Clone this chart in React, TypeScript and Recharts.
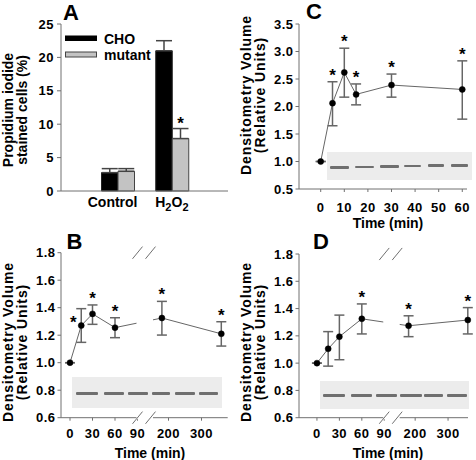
import React from "react";
import {
  ComposedChart, Bar, Line, Scatter, XAxis, YAxis, ErrorBar, LabelList,
  ReferenceArea, ReferenceLine,
} from "recharts";

const FONT = "'Liberation Sans', Arial, sans-serif";
const AXIS = "#707070";
const TRACE = "#666666";

// panel A: propidium iodide stained cells (%)
const A_GROUPS = ["Control", "H2O2"];
const A_CHO = [2.75, 21.0];
const A_CHO_HI = [3.35, 22.5];
const A_MUT = [2.95, 7.85];
const A_MUT_HI = [3.35, 9.35];
const A_MUT_SIG = [false, true];
const A_TICKS_Y = [0, 5, 10, 15, 20, 25];

// panel B: time course, broken time axis
const B_TIME = [0, 15, 30, 60, 180, 360];
const B_MEAN = [1.0, 1.27, 1.355, 1.255, 1.325, 1.21];
const B_LO = [1.0, 1.148, 1.279, 1.182, 1.201, 1.121];
const B_HI = [1.0, 1.393, 1.42, 1.327, 1.446, 1.298];
const B_SIG = [false, true, true, true, true, true];
const B_STAR_LEFT = [15];

// panel C: short time course
const C_TIME = [0, 5, 10, 15, 30, 60];
const C_MEAN = [1.0, 2.06, 2.62, 2.22, 2.39, 2.31];
const C_LO = [1.0, 1.65, 2.17, 2.03, 2.17, 1.77];
const C_HI = [1.0, 2.45, 3.06, 2.41, 2.59, 2.83];
const C_SIG = [false, true, true, true, true, true];
const C_TICKS_X = [0, 10, 20, 30, 40, 50, 60];
const C_TICKS_Y = [0.5, 1.0, 1.5, 2.0, 2.5, 3.0, 3.5];

// panel D
const D_TIME = [0, 15, 30, 60, 180, 360];
const D_MEAN = [1.0, 1.105, 1.194, 1.325, 1.274, 1.316];
const D_LO = [1.0, 0.978, 1.025, 1.214, 1.194, 1.214];
const D_HI = [1.0, 1.231, 1.352, 1.434, 1.347, 1.407];
const D_SIG = [false, false, false, true, true, true];

const BD_TICKS_X = [0, 30, 60, 90, 200, 300];
const BD_TICKS_Y = [0.6, 0.8, 1.0, 1.2, 1.4, 1.6, 1.8];

// broken axis: 0-90 min stretched, 150+ min compressed
const brk = (t: number) => (t <= 120 ? t * 0.75 : 98.5 + (t - 200) * 0.33);
const GAP = [68, 81.5];
const BREAK_MARKS = [[62.5, 72.5], [75.5, 85.5]];

// western blot insets (panel px)
const C_BLOT = { left: 89, top: 152, width: 145, height: 28, bandY: 14, tilt: -0.4,
  bands: [[3, 22], [28, 47], [53, 72], [77, 94], [101, 117], [124, 141]] };
const B_BLOT = { left: 72, top: 147, width: 150, height: 31, bandY: 15, tilt: 0,
  bands: [[4, 26], [32, 52], [56, 76], [80, 98], [103, 123], [127, 146]] };
const D_BLOT = { left: 82, top: 151, width: 149, height: 28, bandY: 13, tilt: 0,
  bands: [[3, 25], [31, 52], [56, 77], [80, 102], [104, 123], [127, 147]] };

const tickStyle = { fontSize: 13, fontWeight: 700, fill: "#000", fontFamily: FONT, letterSpacing: 0.5 };
const overlay = { position: "absolute" as const, left: 0, top: 0, pointerEvents: "none" as const, overflow: "visible" };

function rowsFor(time: number[], mean: number[], lo: number[], hi: number[], sig: boolean[], map: (t: number) => number, left: number[] = []) {
  return time.map((t, i) => ({
    x: map(t),
    t,
    mean: mean[i],
    err: [mean[i] - lo[i], hi[i] - mean[i]],
    hi: hi[i],
    sig: sig[i],
    left: left.includes(t),
  }));
}

const Star = (props: any) => {
  const { cx, cy, payload } = props;
  if (cx == null || cy == null) return null;
  const left = payload && payload.left;
  return (
    <text x={left ? cx - 8 : cx} y={left ? cy + 19 : cy - 1} textAnchor="middle"
      fontSize={17} fontWeight={700} fontFamily={FONT} fill="#000">*</text>
  );
};

// asterisk over the mutant bar, placed above its error bar
const BarStar = (props: any) => {
  const { x, y, width, height, value, index } = props;
  if (!A_MUT_SIG[index] || !value) return null;
  const perUnit = height / value;
  const errTop = y - (A_MUT_HI[index] - A_MUT[index]) * perUnit;
  return (
    <text x={x + width / 2} y={errTop + 0.5} textAnchor="middle" fontSize={17} fontWeight={700}
      fontFamily={FONT} fill="#000">*</text>
  );
};

const ATick = (props: any) => {
  const { x, y, payload } = props;
  const h = payload.value === "H2O2";
  return (
    <text x={h ? x : x - 5} y={y} dy="0.71em" textAnchor="middle" fontSize={14} fontWeight={700} fontFamily={FONT} fill="#000">
      {h ? (
        <>
          H<tspan dy={4} fontSize={11}>2</tspan><tspan dy={-4}>O</tspan><tspan dy={4} fontSize={11}>2</tspan>
        </>
      ) : payload.value}
    </text>
  );
};

function Blot({ b }: { b: typeof C_BLOT }) {
  return (
    <div style={{ position: "absolute", left: b.left, top: b.top, width: b.width, height: b.height, background: "#ececec" }}>
      {b.bands.map(([x1, x2], i) => (
        <div key={i} style={{
          position: "absolute", left: x1, width: x2 - x1, top: b.bandY + i * b.tilt, height: 2.5,
          background: "#5a5a5a", borderRadius: 1, filter: "blur(0.4px)", opacity: 0.85,
        }} />
      ))}
    </div>
  );
}

function Labels({ letter, lx, ly, y1, y2, yc, spacing, time, tx }: any) {
  return (
    <svg width={238} height={230} style={overlay} fontFamily={FONT} fontWeight={700} fill="#000">
      <text x={lx} y={ly} fontSize={22}>{letter}</text>
      <text transform={`translate(12.5,${yc}) rotate(-90)`} textAnchor="middle" fontSize={14} letterSpacing={spacing}>{y1}</text>
      <text transform={`translate(26.5,${yc}) rotate(-90)`} textAnchor="middle" fontSize={14} letterSpacing={spacing}>{y2}</text>
      {time && <text x={tx} y={227.5} textAnchor="middle" fontSize={14}>Time (min)</text>}
    </svg>
  );
}

function PanelA() {
  const data = A_GROUPS.map((g, i) => ({
    name: g,
    cho: A_CHO[i],
    choErr: [0, A_CHO_HI[i] - A_CHO[i]],
    mut: A_MUT[i],
    mutErr: [0, A_MUT_HI[i] - A_MUT[i]],
  }));
  return (
    <div style={{ position: "absolute", left: 0, top: 0, width: 238, height: 230 }}>
      <ComposedChart width={238} height={230} data={data} margin={{ top: 24, right: 10, bottom: 9, left: 21 }}
        barGap={0} barSize={16.5}>
        <XAxis dataKey="name" padding={{ left: 29.5, right: 29 }} height={30} tickLine={false} tickSize={0}
          tickMargin={6} interval={0} axisLine={{ stroke: AXIS }} tick={<ATick />} />
        <YAxis domain={[0, 25]} ticks={A_TICKS_Y} width={40} tickSize={4} tickMargin={3} interval={0}
          axisLine={{ stroke: AXIS }} tickLine={{ stroke: AXIS }} tick={tickStyle} />
        <XAxis xAxisId="top" orientation="top" dataKey="name" height={0} tick={false} tickLine={false}
          axisLine={{ stroke: AXIS }} />
        <YAxis yAxisId="right" orientation="right" domain={[0, 25]} width={0} tick={false} tickLine={false}
          axisLine={{ stroke: AXIS }} />
        <Bar dataKey="cho" fill="#000" stroke="#222" isAnimationActive={false}>
          <ErrorBar dataKey="choErr" width={8} stroke="#444" />
        </Bar>
        <Bar dataKey="mut" fill="#c3c3c3" stroke="#444" isAnimationActive={false}>
          <ErrorBar dataKey="mutErr" width={8} stroke="#444" />
          <LabelList dataKey="mut" content={<BarStar />} />
        </Bar>
      </ComposedChart>
      <Labels letter="A" lx={63} ly={19.5} y1="Propidium iodide" y2="stained cells (%)" yc={110} spacing={0} />
      <svg width={238} height={230} style={overlay} fontFamily={FONT} fontWeight={700} fontSize={14}>
        <rect x={65} y={35.5} width={32} height={5.5} fill="#000" />
        <rect x={65.5} y={52} width={31} height={5} fill="#c3c3c3" stroke="#444" />
        <text x={104} y={43.5}>CHO</text>
        <text x={104} y={60}>mutant</text>
      </svg>
    </div>
  );
}

function TimePanel({ left, top, rows, xDomain, xTicks, yDomain, yTicks, margin, xTickMargin, yTickMargin, broken, blot, letter, lx, yc }: any) {
  const stars = rows.filter((r: any) => r.sig);
  const yPad = (yDomain[1] - yDomain[0]) * 0.037;
  return (
    <div style={{ position: "absolute", left, top, width: 238, height: 230 }}>
      <ComposedChart width={238} height={230} data={rows} margin={margin}>
        <XAxis dataKey="x" type="number" domain={xDomain} ticks={xTicks.map((t: number) => (broken ? brk(t) : t))}
          tickFormatter={(_v: number, i: number) => String(xTicks[i])} interval={0} height={30}
          tickSize={3} tickMargin={xTickMargin} axisLine={{ stroke: AXIS }} tickLine={{ stroke: AXIS }} tick={tickStyle} />
        <YAxis type="number" domain={yDomain} ticks={yTicks} tickFormatter={(v: number) => v.toFixed(1)}
          interval={0} width={40} tickSize={3.5} tickMargin={yTickMargin} axisLine={{ stroke: AXIS }}
          tickLine={{ stroke: AXIS }} tick={tickStyle} />
        <XAxis xAxisId="top" orientation="top" type="number" domain={xDomain} height={0} tick={false}
          tickLine={false} axisLine={{ stroke: AXIS }} />
        <YAxis yAxisId="right" orientation="right" type="number" domain={yDomain} width={0} tick={false}
          tickLine={false} axisLine={{ stroke: AXIS }} />
        <Line dataKey="mean" stroke={TRACE} strokeWidth={1} isAnimationActive={false}
          dot={{ r: 3, fill: "#000", stroke: "#000", strokeWidth: 0.5 }}>
          <ErrorBar dataKey="err" width={5} stroke={TRACE} direction="y" />
        </Line>
        <Scatter data={stars} dataKey="hi" isAnimationActive={false} shape={(p: any) => <Star {...p} />} />
        {broken && (
          <ReferenceArea x1={GAP[0]} x2={GAP[1]} y1={yDomain[0]} y2={yDomain[1]} fill="#fff" fillOpacity={1}
            stroke="#fff" strokeWidth={3} ifOverflow="visible" zIndex={550} />
        )}
        {broken && [yDomain[0], yDomain[1]].flatMap((yy: number, k: number) =>
          BREAK_MARKS.map(([a, b], j) => (
            <ReferenceLine key={`${k}-${j}`} segment={[{ x: a, y: yy - yPad }, { x: b, y: yy + yPad }]}
              stroke={AXIS} ifOverflow="visible" zIndex={650} />
          )))}
      </ComposedChart>
      <Blot b={blot} />
      <Labels letter={letter} lx={lx} ly={18.5} y1="Densitometry Volume" y2="(Relative Units)" yc={yc}
        spacing={0.9} time tx={150} />
    </div>
  );
}

export default function App() {
  const bRows = rowsFor(B_TIME, B_MEAN, B_LO, B_HI, B_SIG, brk, B_STAR_LEFT);
  const cRows = rowsFor(C_TIME, C_MEAN, C_LO, C_HI, C_SIG, (t) => t);
  const dRows = rowsFor(D_TIME, D_MEAN, D_LO, D_HI, D_SIG, brk);
  return (
    <div style={{ position: "absolute", left: 0, top: 0, width: 476, height: 460, background: "#fff", overflow: "hidden" }}>
      <PanelA />
      <TimePanel left={238} top={0} rows={cRows} xDomain={[-9.2, 62]} xTicks={C_TICKS_X} yDomain={[0.5, 3.5]}
        yTicks={C_TICKS_Y} margin={{ top: 24, right: 9, bottom: 11, left: 21 }} xTickMargin={11} yTickMargin={2}
        broken={false} blot={C_BLOT} letter="C" lx={68} yc={95} />
      <TimePanel left={0} top={230} rows={bRows} xDomain={[-9, 157.7]} xTicks={BD_TICKS_X} yDomain={[0.6, 1.8]}
        yTicks={BD_TICKS_Y} margin={{ top: 22.7, right: 10.3, bottom: 12.3, left: 21 }} xTickMargin={8} yTickMargin={2}
        broken blot={B_BLOT} letter="B" lx={66.5} yc={112} />
      <TimePanel left={238} top={230} rows={dRows} xDomain={[-18, 151.5]} xTicks={BD_TICKS_X} yDomain={[0.6, 1.8]}
        yTicks={BD_TICKS_Y} margin={{ top: 24, right: 8, bottom: 12.3, left: 21 }} xTickMargin={8} yTickMargin={2}
        broken blot={D_BLOT} letter="D" lx={75} yc={112} />
    </div>
  );
}
